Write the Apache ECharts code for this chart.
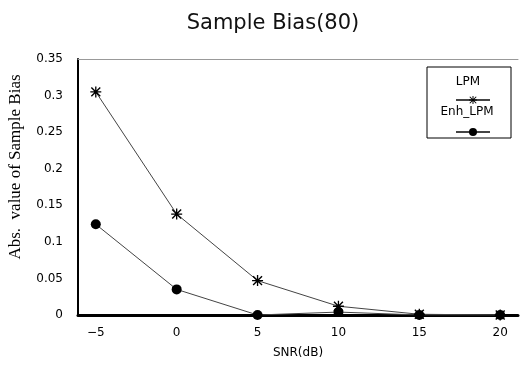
<!DOCTYPE html>
<html>
<head>
<meta charset="utf-8">
<script src="https://cdn.jsdelivr.net/npm/echarts@6/dist/echarts.min.js"></script>
<style>html,body{margin:0;padding:0;background:#fff}#c{width:521px;height:377px}</style>
</head>
<body>
<div id="c"></div>
<script>
const snr = [-5, 0, 5, 10, 15, 20];
const lpm = [0.305, 0.138, 0.047, 0.012, 0.001, 0.0];
const enhLpm = [0.124, 0.035, 0.0, 0.004, 0.0, 0.0];
const xTicks = [-5, 0, 5, 10, 15, 20];
const seriesNames = ['LPM', 'Enh_LPM'];

const asterisk = 'path://M4.4 0L5.6 0L5.6 10L4.4 10Z M0 4.4L10 4.4L10 5.6L0 5.6Z M1.4 0.5L9.5 8.6L8.6 9.5L0.5 1.4Z M8.6 0.5L9.5 1.4L1.4 9.5L0.5 8.6Z';

const chart = echarts.init(document.getElementById('c'));
const legendBase = {
  orient: 'vertical', left: 450, itemWidth: 34, itemHeight: 10,
  formatter: function(){ return ''; }, selectedMode: false,
  textStyle: {fontSize: 1}
};
chart.setOption({
  animation: false,
  backgroundColor: '#fff',
  title: {
    text: 'Sample Bias(80)', left: 268, top: 8, textAlign: 'center',
    textStyle: {fontFamily: 'DejaVu Sans', fontSize: 21, fontWeight: 'normal', color: '#111'}
  },
  grid: {left: 78, right: 3, top: 59, bottom: 62},
  legend: [
    Object.assign({}, legendBase, {data: [seriesNames[0]], top: 90}),
    Object.assign({}, legendBase, {data: [seriesNames[1]], top: 122})
  ],
  graphic: [
    {type: 'rect', shape: {x: 427, y: 67, width: 84, height: 71}, style: {fill: 'none', stroke: '#000', lineWidth: 1}, z: 10},
    {type: 'text', style: {text: seriesNames[0], x: 468, y: 82, align: 'center', verticalAlign: 'middle', font: '12px "DejaVu Sans"', fill: '#000'}, z: 11},
    {type: 'text', style: {text: seriesNames[1], x: 467, y: 112, align: 'center', verticalAlign: 'middle', font: '12px "DejaVu Sans"', fill: '#000'}, z: 11},
    {type: 'text', rotation: Math.PI / 2, x: 16, y: 167, style: {text: 'Abs.  value of Sample Bias', align: 'center', verticalAlign: 'middle', font: '17px "Liberation Serif"', fill: '#000'}},
    {type: 'text', style: {text: 'SNR(dB)', x: 298, y: 353, align: 'center', verticalAlign: 'middle', font: '12px "DejaVu Sans"', fill: '#000'}}
  ],
  xAxis: [{
    type: 'value', min: -6.1, max: 21.1,
    axisLine: {onZero: false, lineStyle: {color: '#000', width: 3}},
    axisTick: {show: false},
    splitLine: {show: false},
    axisLabel: {customValues: xTicks, margin: 12, color: '#000', fontFamily: 'DejaVu Sans', fontSize: 12,
      formatter: function(v){ return v < 0 ? '\u2212' + Math.abs(v) : String(v); }}
  }, {
    type: 'value', position: 'top', min: -6.1, max: 21.1,
    axisLine: {show: true, onZero: false, lineStyle: {color: '#999', width: 1}},
    axisTick: {show: false}, axisLabel: {show: false}, splitLine: {show: false}
  }],
  yAxis: {
    type: 'value', min: 0, max: 0.35, interval: 0.05,
    axisLine: {show: true, onZero: false, lineStyle: {color: '#000', width: 2}},
    axisTick: {show: false},
    splitLine: {show: false},
    axisLabel: {margin: 15, color: '#000', fontFamily: 'DejaVu Sans', fontSize: 12}
  },
  series: [
    {
      name: seriesNames[0], type: 'line',
      data: snr.map((x, i) => [x, lpm[i]]),
      symbol: asterisk, symbolSize: 11,
      lineStyle: {color: '#444', width: 1},
      itemStyle: {color: '#000'}, z: 3
    },
    {
      name: seriesNames[1], type: 'line',
      data: snr.map((x, i) => [x, enhLpm[i]]),
      symbol: 'circle', symbolSize: 10,
      lineStyle: {color: '#444', width: 1},
      itemStyle: {color: '#000'}, z: 3
    }
  ]
});
</script>
</body>
</html>
